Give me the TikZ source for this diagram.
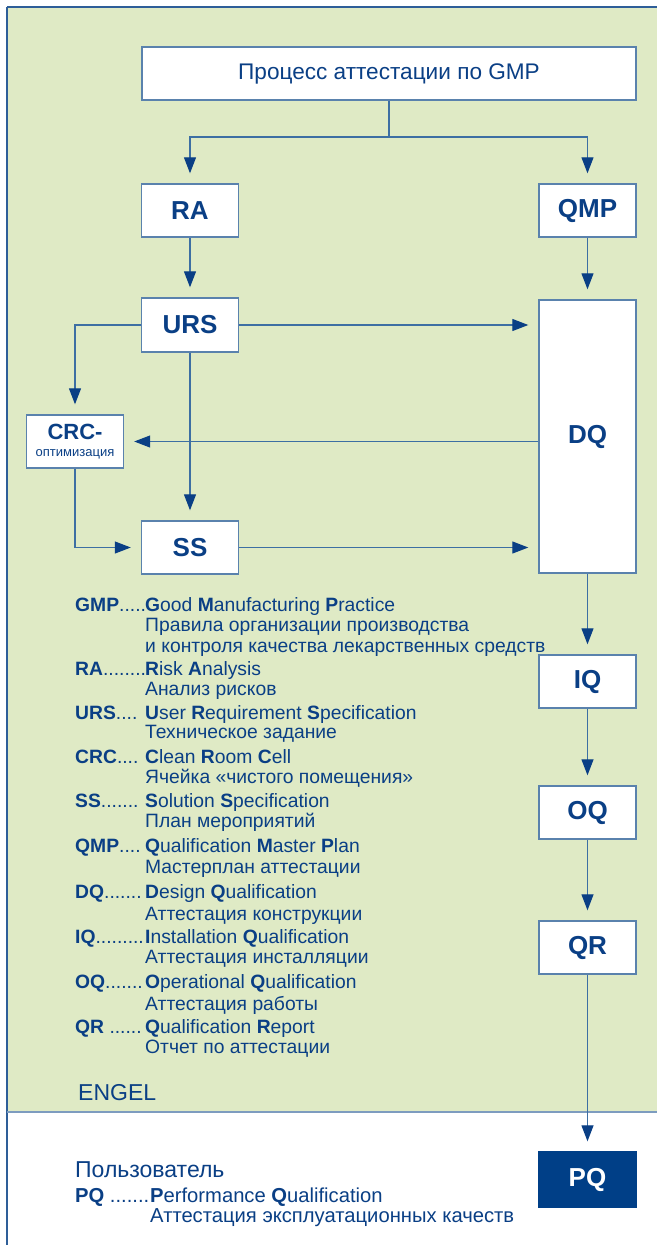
\documentclass[tikz,border=0pt]{standalone}
\usepackage{fontspec}
\setmainfont{Liberation Sans}
\usetikzlibrary{arrows.meta}
\definecolor{bg}{HTML}{DFEAC5}
\definecolor{ink}{HTML}{0A3F85}
\definecolor{wire}{HTML}{3D6FA3}
\definecolor{edgec}{HTML}{5A82AD}
\definecolor{framec}{HTML}{2E5E98}
\definecolor{divc}{HTML}{7D9CBF}
\definecolor{pqfill}{HTML}{003F87}
\newcommand\lgkey[2]{\makebox[#1][l]{#2}}
\tikzset{
  box/.style={draw=edgec, line width=1.4pt, fill=white, inner sep=0pt,
    minimum width=97pt, minimum height=53pt, text=ink,
    font=\fontsize{26}{26}\selectfont\bfseries},
  wireline/.style={draw=wire, line width=1.2pt},
  arr/.style={wireline, -{Triangle[length=16pt,width=12pt,color=ink]}, shorten >=10pt},
  leg/.style={anchor=base west, inner sep=0pt, text=ink, font=\fontsize{19.3}{22}\selectfont},
  legb/.style={anchor=base west, inner sep=0pt, text=ink, font=\fontsize{20.2}{22}\selectfont},
  head/.style={anchor=base west, inner sep=0pt, text=ink, font=\fontsize{23}{24}\selectfont}
}
\begin{document}
\begin{tikzpicture}[x=1pt,y=-1pt]
\useasboundingbox (0,0) rectangle (657,1245);
\fill[white] (0,0) rectangle (657,1245);
\fill[bg] (7,6.5) rectangle (657,1112);
\draw[framec, line width=2pt] (7,6.5) -- (657,6.5);
\draw[framec, line width=1.6pt] (7,6.5) -- (7,1245);
\draw[divc, line width=1.6pt] (7,1112) -- (657,1112);

% boxes
\node[box, minimum width=494pt, font=\fontsize{22.6}{24}\selectfont] (title) at (389,73.5) {Процесс аттестации по GMP};
\node[box] (RA) at (190,210.5) {RA};
\node[box] (QMP) at (587.5,210.5) {QMP};
\node[box, minimum height=54pt] (URS) at (190,325) {URS};
\node[box, minimum height=273pt] (DQ) at (587.5,436.5) {DQ};
\node[box, align=center, font=\fontsize{13}{17}\selectfont] (CRC) at (75,441.5)
  {{\fontsize{22}{17}\selectfont\bfseries CRC-}\\оптимизация};
\node[box] (SS) at (190,547.5) {SS};
\node[box] (IQ) at (587.5,681.5) {IQ};
\node[box] (OQ) at (587.5,812.5) {OQ};
\node[box] (QR) at (587.5,947.5) {QR};
\node[box, draw=pqfill, fill=pqfill, text=white, minimum width=98pt, minimum height=55pt] (PQ) at (587.5,1179.5) {PQ};

% connectors
\coordinate (split) at (389,137);
\draw[wireline] (title.south) -- (split);
\draw[arr] (split) -| (RA.north);
\draw[arr] (split) -| (QMP.north);
\draw[arr] (RA.south) -- (URS.north);
\draw[arr] (QMP.south) -- (DQ.north);
\draw[arr] (URS.east) -- (URS.east -| DQ.west);
\draw[arr] (URS.west) -| (CRC.north);
\draw[arr] (CRC.east -| DQ.west) -- (CRC.east);
\draw[arr] (URS.south) -- (SS.north);
\draw[arr] (CRC.south) |- (SS.west);
\draw[arr] (SS.east) -- (SS.east -| DQ.west);
\draw[arr] (DQ.south) -- (IQ.north);
\draw[arr] (IQ.south) -- (OQ.north);
\draw[arr] (OQ.south) -- (QR.north);
\draw[arr] (QR.south) -- (PQ.north);

% legend
\node[leg] (l1) at (75,611) {\lgkey{70pt}{\textbf{GMP}.....}\textbf{G}ood \textbf{M}anufacturing \textbf{P}ractice};
\node[leg] (l2) at (145,631) {Правила организации производства};
\node[leg] (l3) at (145,652) {и контроля качества лекарственных средств};
\node[leg] (l4) at (75,675) {\lgkey{70pt}{\textbf{RA}........}\textbf{R}isk \textbf{A}nalysis};
\node[leg] (l5) at (145,695) {Анализ рисков};
\node[leg] (l6) at (75,719) {\lgkey{70pt}{\textbf{URS}....}\textbf{U}ser \textbf{R}equirement \textbf{S}pecification};
\node[leg] (l7) at (145,738) {Техническое задание};
\node[leg] (l8) at (75,763) {\lgkey{70pt}{\textbf{CRC}....}\textbf{C}lean \textbf{R}oom \textbf{C}ell};
\node[leg] (l9) at (145,783) {Ячейка «чистого помещения»};
\node[leg] (l10) at (75,807) {\lgkey{70pt}{\textbf{SS}.......}\textbf{S}olution \textbf{S}pecification};
\node[leg] (l11) at (145,827) {План мероприятий};
\node[leg] (l12) at (75,852) {\lgkey{70pt}{\textbf{QMP}....}\textbf{Q}ualification \textbf{M}aster \textbf{P}lan};
\node[leg] (l13) at (145,873) {Мастерплан аттестации};
\node[leg] (l14) at (75,898) {\lgkey{70pt}{\textbf{DQ}.......}\textbf{D}esign \textbf{Q}ualification};
\node[leg] (l15) at (145,920) {Аттестация конструкции};
\node[leg] (l16) at (75,943) {\lgkey{70pt}{\textbf{IQ}.........}\textbf{I}nstallation \textbf{Q}ualification};
\node[leg] (l17) at (145,963) {Аттестация инсталляции};
\node[leg] (l18) at (75,988) {\lgkey{70pt}{\textbf{OQ}.......}\textbf{O}perational \textbf{Q}ualification};
\node[leg] (l19) at (145,1010) {Аттестация работы};
\node[leg] (l20) at (75,1033) {\lgkey{70pt}{\textbf{QR} ......}\textbf{Q}ualification \textbf{R}eport};
\node[leg] (l21) at (145,1053) {Отчет по аттестации};
\node[head] (engel) at (78,1100) {ENGEL};
\node[head] (user) at (75,1177) {Пользователь};
\node[legb] (l22) at (75,1202) {\lgkey{75pt}{\textbf{PQ} .......}\textbf{P}erformance \textbf{Q}ualification};
\node[legb] (l23) at (150,1222) {Аттестация эксплуатационных качеств};
\end{tikzpicture}
\end{document}
